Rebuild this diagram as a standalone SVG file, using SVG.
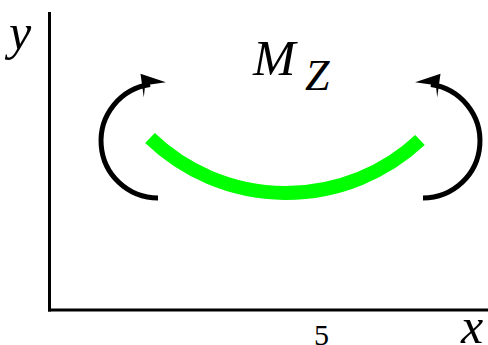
<svg xmlns="http://www.w3.org/2000/svg" width="488" height="345" viewBox="0 0 488 345">
<style>
.ax{stroke:#000;stroke-width:3;fill:none}
.rot{stroke:#000;stroke-width:5;fill:none}
.head{fill:#000}
.lbl{font-family:"Liberation Serif",serif;font-style:italic;fill:#000}
</style>
<g id="axes">
<line class="ax" x1="49.5" y1="12" x2="49.5" y2="311.5"/>
<line class="ax" x1="48" y1="310" x2="488" y2="310"/>
</g>
<g id="beam">
<path d="M150,138 A196,196 0 0 0 420,140" stroke="#00ff00" stroke-width="14" fill="none"/>
</g>
<g id="connectors">
<path class="rot" d="M158,198 A57,57 0 0 1 150.07,84.56"/>
<polygon class="head" points="165.9,82.3 140.5,73.8 143.8,97.6 145.1,85.3"/>
<path class="rot" d="M423,198 A57,57 0 0 0 430.93,84.56"/>
<polygon class="head" points="415.1,82.3 440.5,73.8 437.2,97.6 435.9,85.3"/>
</g>
<g id="labels">
<text class="lbl" x="9" y="49" font-size="50">y</text>
<text class="lbl" x="461" y="343" font-size="50">x</text>
<text class="lbl" x="253" y="75" font-size="51">M</text>
<text class="lbl" x="305" y="90" font-size="44">Z</text>
<text x="314" y="345" font-size="30" font-family="Liberation Serif,serif" fill="#000">5</text>
</g>
</svg>
